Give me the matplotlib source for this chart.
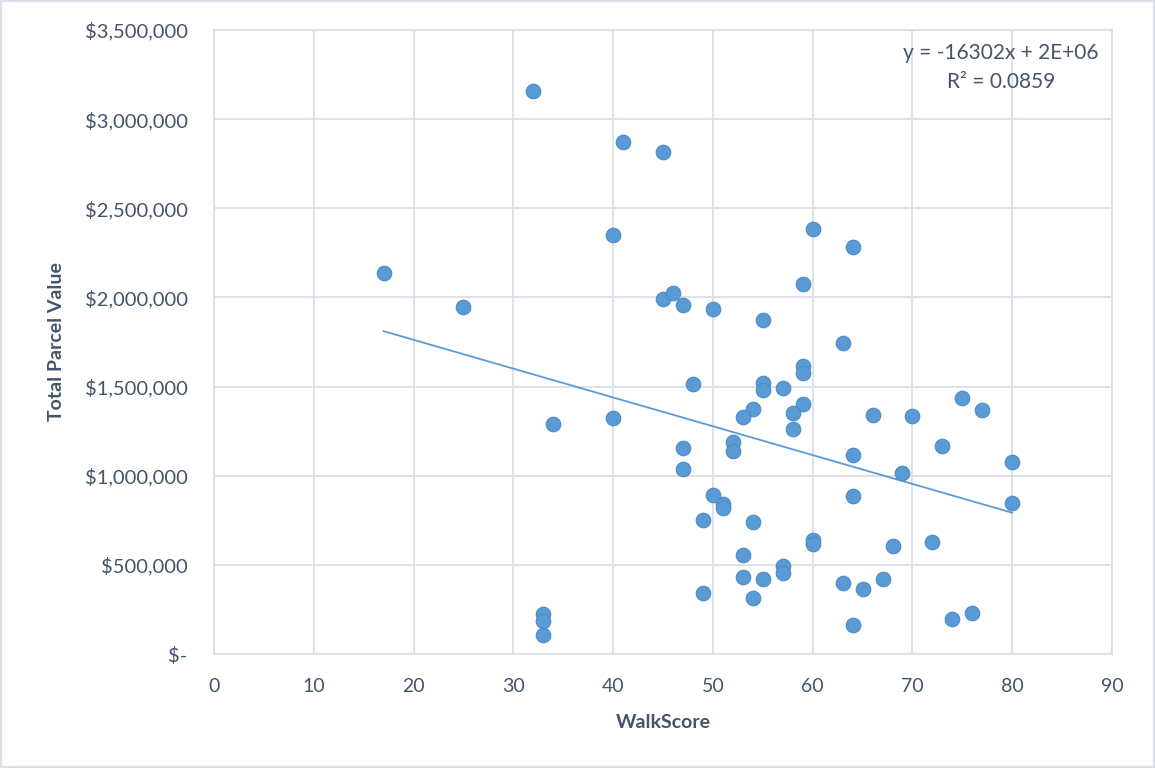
import numpy as np
import matplotlib
matplotlib.use("Agg")
import matplotlib.pyplot as plt
from matplotlib.ticker import FuncFormatter, MultipleLocator

# WalkScore vs total parcel value
walk_score = [32, 41, 45, 40, 60, 64, 17, 25, 45, 46, 47, 50, 59, 55,
              63, 59, 59, 48, 55, 55, 57, 40, 54, 53, 59, 58, 58, 66, 70,
              75, 77, 34, 47, 47, 52, 52, 64, 73, 80, 69, 50, 51, 51, 64,
              80, 49, 54, 60, 60, 68, 72, 53, 57, 57, 53, 55, 63, 65, 67,
              49, 54, 64, 74, 76, 33, 33, 33]
parcel_value = [3158000, 2870000, 2817000, 2348000, 2385000, 2283000,
                2137000, 1944000, 1991000, 2027000, 1956000, 1933000,
                2077000, 1875000, 1743000, 1615000, 1574000, 1513000,
                1518000, 1479000, 1494000, 1325000, 1376000, 1331000,
                1400000, 1352000, 1262000, 1339000, 1337000, 1436000,
                1367000, 1292000, 1155000, 1036000, 1187000, 1140000,
                1116000, 1165000, 1079000, 1017000, 890000, 841000,
                821000, 888000, 845000, 750000, 742000, 639000, 617000,
                604000, 628000, 554000, 494000, 456000, 430000, 421000,
                400000, 363000, 419000, 340000, 312000, 163000, 198000,
                232000, 226000, 185000, 105000]

equation_label = "y = -16302x + 2E+06"
r2_label = "R\u00b2 = 0.0859"

text_color = "#44546A"
grid_color = "#DADEE6"
point_color = "#5B9BD5"

plt.rcParams['font.family'] = ['Lato', 'DejaVu Sans']

fig = plt.figure(figsize=(11.55, 7.68), dpi=100)
ax = fig.add_axes([0.1853, 0.1484, 0.9628 - 0.1853, 0.9609 - 0.1484])

x = np.array(walk_score, dtype=float)
y = np.array(parcel_value, dtype=float)

ax.scatter(x, y, s=110, color=point_color, edgecolors="#4A8AC8",
           linewidths=0.8, zorder=3)

# linear trendline over the data range
slope, intercept = np.polyfit(x, y, 1)
xs = np.array([x.min(), x.max()])
ax.plot(xs, slope * xs + intercept, color=point_color, lw=1.3, zorder=2)

ax.set_xlim(0, 90)
ax.set_ylim(0, 3500000)
ax.xaxis.set_major_locator(MultipleLocator(10))
ax.yaxis.set_major_locator(MultipleLocator(500000))


def dollars(v, pos):
    if v == 0:
        return "$-"
    return "${:,.0f}".format(v)


ax.yaxis.set_major_formatter(FuncFormatter(dollars))
ax.grid(True, color=grid_color, lw=1.3, zorder=0)
ax.set_axisbelow(True)
for side in ax.spines.values():
    side.set_color(grid_color)
    side.set_linewidth(1.3)
ax.tick_params(axis="both", length=0, colors=text_color)
ax.tick_params(axis="x", labelsize=14, pad=17)
ax.tick_params(axis="y", labelsize=14.5, pad=19)

ax.set_xlabel("WalkScore", fontsize=14, fontweight="bold",
              color=text_color, labelpad=14)
ax.set_ylabel("Total Parcel Value", fontsize=14, fontweight="bold",
              color=text_color, labelpad=14)

ax.text(0.985, 0.963, equation_label, transform=ax.transAxes, fontsize=15,
        color=text_color, ha="right", va="center")
ax.text(0.877, 0.916, r2_label, transform=ax.transAxes, fontsize=15,
        color=text_color, ha="center", va="center")

# thin frame round the whole chart, as in the spreadsheet export
fig.patches.append(plt.Rectangle((0.001, 0.001), 0.998, 0.998,
                                 transform=fig.transFigure, fill=False,
                                 edgecolor=grid_color, lw=1.5))

fig.savefig("out.png", dpi=100)
